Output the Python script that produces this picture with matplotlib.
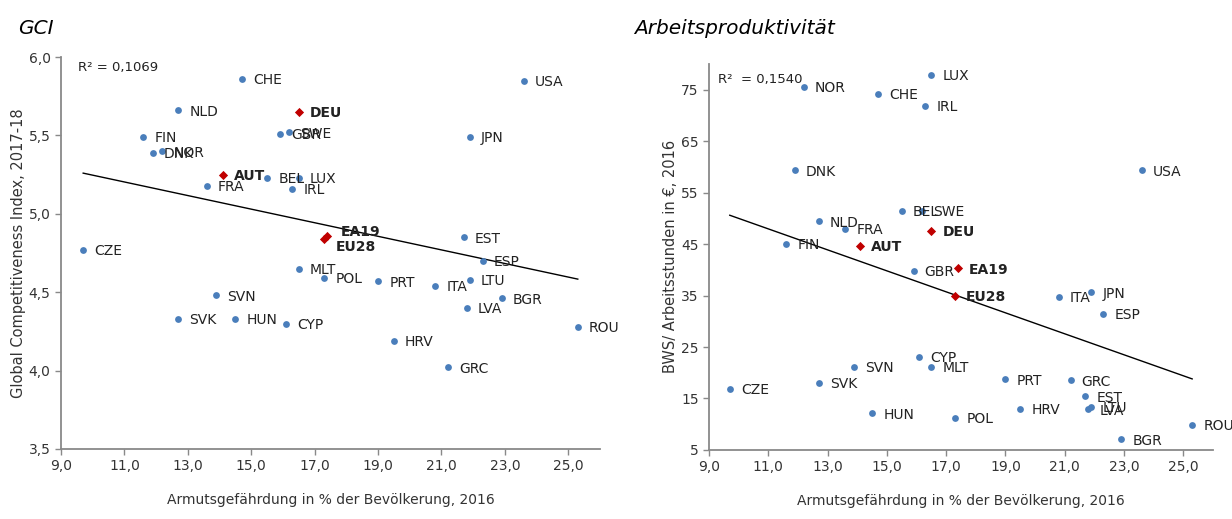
import numpy as np
import matplotlib
matplotlib.use("Agg")
import matplotlib.pyplot as plt

# Daten
laender = ['AUT', 'BEL', 'BGR', 'CYP', 'CZE', 'DEU', 'DNK', 'EST', 'ESP', 'FIN',
           'FRA', 'GBR', 'GRC', 'HRV', 'HUN', 'IRL', 'ITA', 'LTU', 'LUX', 'LVA',
           'MLT', 'NLD', 'POL', 'PRT', 'ROU', 'SVK', 'SVN', 'SWE', 'NOR', 'CHE',
           'USA', 'JPN', 'EA19', 'EU28']

# Armutsgefaehrdung in % der Bevoelkerung, 2016
armut = [14.1, 15.5, 22.9, 16.1, 9.7, 16.5, 11.9, 21.7, 22.3, 11.6,
         13.6, 15.9, 21.2, 19.5, 14.5, 16.3, 20.8, 21.9, 16.5, 21.8,
         16.5, 12.7, 17.3, 19.0, 25.3, 12.7, 13.9, 16.2, 12.2, 14.7,
         23.6, 21.9, 17.4, 17.3]

# Global Competitiveness Index 2017-18
gci = [5.25, 5.23, 4.46, 4.30, 4.77, 5.65, 5.39, 4.85, 4.70, 5.49,
       5.18, 5.51, 4.02, 4.19, 4.33, 5.16, 4.54, 4.58, 5.23, 4.40,
       4.65, 5.66, 4.59, 4.57, 4.28, 4.33, 4.48, 5.52, 5.40, 5.86,
       5.85, 5.49, 4.86, 4.84]

# BWS je Arbeitsstunde in EUR, 2016
produktivitaet = [44.7, 51.5, 7.1, 23.1, 16.9, 47.6, 59.3, 15.4, 31.4, 45.1,
                  48.0, 39.8, 18.5, 13.0, 12.1, 71.9, 34.8, 13.4, 77.9, 12.9,
                  21.1, 49.4, 11.3, 18.7, 9.9, 18.0, 21.2, 51.5, 75.5, 74.2,
                  59.3, 35.6, 40.3, 35.0]

hervorgehoben = ['AUT', 'DEU', 'EA19', 'EU28']
aggregate = ['EA19', 'EU28']

x_ticks = [9, 11, 13, 15, 17, 19, 21, 23, 25]
gci_ticks = [3.5, 4.0, 4.5, 5.0, 5.5, 6.0]
prod_ticks = [5, 15, 25, 35, 45, 55, 65, 75]

BLAU = '#4A7EBB'
ROT = '#C00000'
GRAU = '#898989'
plt.rcParams['font.family'] = ['DejaVu Sans']


def zeichne_panel(ax, y_werte, ylim, yticks, yfmt, ylabel, r2_text, r2_pos, label_offsets):
    x = np.array(armut)
    y = np.array(y_werte)

    # Trendlinie nur ueber die Laender (ohne Aggregate)
    maske = np.array([l not in aggregate for l in laender])
    k, d = np.polyfit(x[maske], y[maske], 1)
    xs = np.array([x[maske].min(), x[maske].max()])
    ax.plot(xs, k * xs + d, color='black', lw=1.0, zorder=2)

    for i, land in enumerate(laender):
        if land in hervorgehoben:
            ax.scatter(x[i], y[i], marker='D', s=22, color=ROT, zorder=4, linewidths=0)
            gewicht = 'bold'
        else:
            ax.scatter(x[i], y[i], marker='o', s=24, color=BLAU, zorder=3, linewidths=0)
            gewicht = 'normal'
        off = label_offsets.get(land, (8, -1))
        ax.annotate(land, (x[i], y[i]), xytext=off, textcoords='offset points',
                    va='center', ha='left', fontsize=10, fontweight=gewicht,
                    color='#222222', zorder=5)

    ax.set_xlim(9, 26)
    ax.set_ylim(*ylim)
    ax.set_xticks(x_ticks)
    ax.set_xticklabels([f"{t:.1f}".replace('.', ',') for t in x_ticks])
    ax.set_yticks(yticks)
    ax.set_yticklabels([yfmt(t) for t in yticks])

    for s in ['top', 'right']:
        ax.spines[s].set_visible(False)
    for s in ['left', 'bottom']:
        ax.spines[s].set_color(GRAU)
        ax.spines[s].set_linewidth(1.3)
    ax.tick_params(direction='out', length=4, width=1, color=GRAU,
                   labelsize=10, labelcolor='#333333')

    ax.set_xlabel('Armutsgefährdung in % der Bevölkerung, 2016', fontsize=10,
                  color='#333333', labelpad=14)
    ax.set_ylabel(ylabel, fontsize=10.5, color='#333333', labelpad=2)
    ax.text(r2_pos[0], r2_pos[1], r2_text, transform=ax.transAxes,
            fontsize=9.5, va='center', ha='left', color='#222222')


fig = plt.figure(figsize=(12.32, 5.19), dpi=100)

ax1 = fig.add_axes([0.0495, 0.135, 0.4375, 0.755])
zeichne_panel(ax1, gci, (3.5, 6.0), gci_ticks, lambda t: f"{t:.1f}".replace('.', ','),
              'Global Competitiveness Index, 2017-18', 'R² = 0,1069', (0.032, 0.974),
              {'EA19': (10, 2.5), 'EU28': (8.5, -6)})

ax2 = fig.add_axes([0.5755, 0.133, 0.409, 0.744])
zeichne_panel(ax2, produktivitaet, (5, 80), prod_ticks, lambda t: f"{t:d}",
              'BWS/ Arbeitsstunden in €, 2016', 'R²  = 0,1540', (0.018, 0.96), {})

fig.text(0.015, 0.945, 'GCI', style='italic', fontsize=14.5, va='center', ha='left')
fig.text(0.515, 0.945, 'Arbeitsproduktivität', style='italic', fontsize=14.5,
         va='center', ha='left')

fig.savefig('out.png', dpi=100)
